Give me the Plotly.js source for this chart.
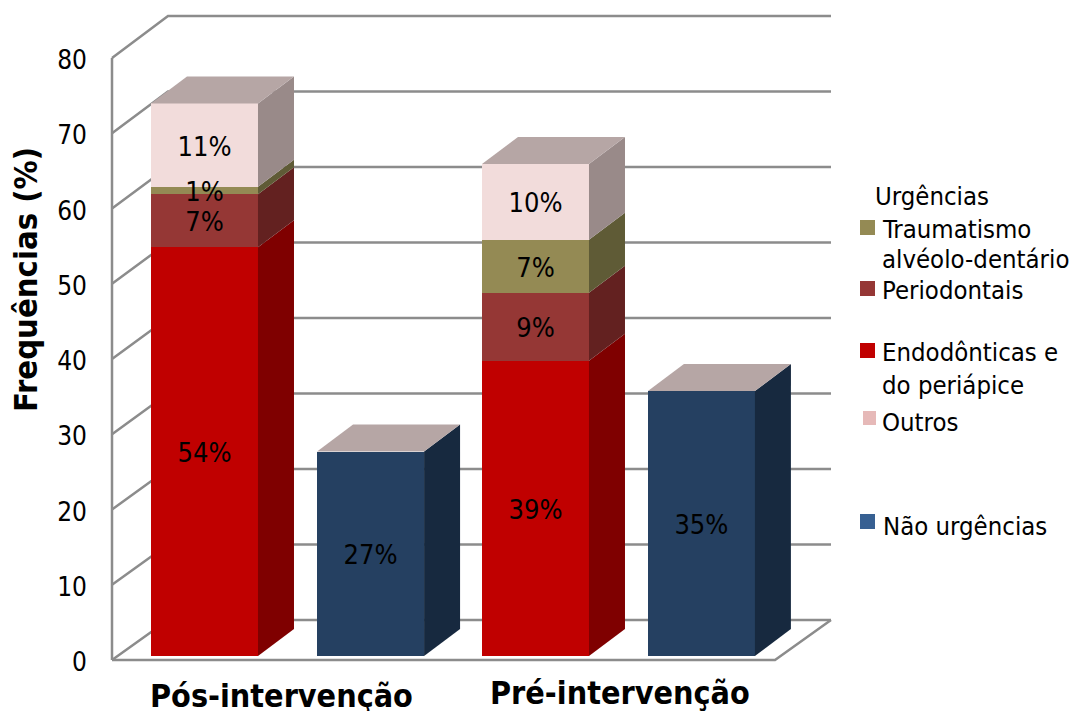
<!DOCTYPE html>
<html><head><meta charset="utf-8">
<script src="https://cdn.plot.ly/plotly-3.0.1.min.js"></script>
<style>html,body{margin:0;padding:0;background:#fff}#c{width:1072px;height:711px}</style>
</head><body><div id="c"></div>
<script>
// ---- data ----
const groups = ['Pós-intervenção', 'Pré-intervenção'];
const endodonticas = [54, 39];
const periodontais = [7, 9];
const traumatismo = [1, 7];
const outros = [11, 10];
const naoUrgencias = [27, 35];
const yTicks = [0, 10, 20, 30, 40, 50, 60, 70, 80];

// ---- style ----
const FONT = 'DejaVu Sans Condensed';
const colors = {
  endo: ['#C00000', '#7F0000'], perio: ['#953735', '#632120'],
  trauma: ['#948A54', '#5F5B36'], outros: ['#F2DCDB', '#998A89'],
  nao: ['#254061', '#17293F'], top: '#B6A6A5', grid: '#8C8C8C'
};
const swatch = {trauma: '#948A54', perio: '#953735', endo: '#C00000', outros: '#E6B9B8', nao: '#376092'};

// ---- geometry of the pseudo-3D projection ----
const W = 1072, H = 711;
const L = 100, R = 845, T = 6, B = 672;          // plot frame (slightly larger than the walls)
const x0Px = 112, y0Px = 660, wallRightPx = 831; // origin of the front wall
const catPx = 331.5, pxY1 = 7.525, pxY2 = 7.57, baseLift = 4;
const xRange = [(L - x0Px) / catPx, (R - x0Px) / catPx];
const xWallEnd = (wallRightPx - x0Px) / catPx;
const y1Range = [(y0Px - B) / pxY1, (y0Px - T) / pxY1];
const y2Range = [(y0Px - baseLift - B) / pxY2, (y0Px - baseLift - T) / pxY2];
const wallDx = 56 / catPx, wallDy = 40 / pxY1, wallStretch = 1.0033;
const barDx = 36 / catPx, barDy = 27 / pxY2, barW = 107 / catPx;
const labelNudge = 0.5;
const urgOffset = 0.279, naoOffset = 0.78;
const urgX = groups.map((_, i) => i + urgOffset - (i ? 0.0015 : 0));
const naoX = groups.map((_, i) => i + naoOffset - (i ? 0.002 : 0));

const traces = [];

// walls
const gx = [], gy = [];
yTicks.forEach(v => {
  const by = v * wallStretch + wallDy;
  gx.push(0, wallDx, xWallEnd, null);
  gy.push(v, by, by, null);
});
const maxT = yTicks[yTicks.length - 1];
gx.push(0, 0, null, 0, 2, 2 + wallDx);
gy.push(0, maxT, null, 0, 0, wallDy);
traces.push({type: 'scatter', mode: 'lines', x: gx, y: gy, xaxis: 'x', yaxis: 'y', hoverinfo: 'skip',
  line: {color: colors.grid, width: 2.5}, showlegend: false});

// bars (front faces)
function bar(x, y, c, name) {
  traces.push({type: 'bar', x: x, y: y, width: barW, name: name, xaxis: 'x', yaxis: 'y2',
    marker: {color: c, line: {width: 0}}, showlegend: false});
}
bar(urgX, endodonticas, colors.endo[0], 'Endodônticas e do periápice');
bar(urgX, periodontais, colors.perio[0], 'Periodontais');
bar(urgX, traumatismo, colors.trauma[0], 'Traumatismo alvéolo-dentário');
bar(urgX, outros, colors.outros[0], 'Outros');
bar(naoX, naoUrgencias, colors.nao[0], 'Não urgências');

// side and top faces, labels
const lx = [], ly = [], lt = [];
function faces(xc, series) {
  let acc = 0;
  const xr = xc + barW / 2, xl = xc - barW / 2;
  series.forEach(s => {
    const y0 = acc, y1 = acc + s.v;
    traces.push({type: 'scatter', mode: 'lines', fill: 'toself', fillcolor: s.c, line: {width: 0, color: s.c},
      x: [xr, xr + barDx, xr + barDx, xr, xr], y: [y0, y0 + barDy, y1 + barDy, y1, y0],
      xaxis: 'x', yaxis: 'y2', hoverinfo: 'skip', showlegend: false});
    lx.push(xc); ly.push((y0 + y1) / 2 - labelNudge); lt.push(s.v + '%');
    acc = y1;
  });
  traces.push({type: 'scatter', mode: 'lines', fill: 'toself', fillcolor: colors.top, line: {width: 0, color: colors.top},
    x: [xl, xr, xr + barDx, xl + barDx, xl], y: [acc, acc, acc + barDy, acc + barDy, acc],
    xaxis: 'x', yaxis: 'y2', hoverinfo: 'skip', showlegend: false});
}
groups.forEach((_, i) => {
  faces(urgX[i], [
    {v: endodonticas[i], c: colors.endo[1]}, {v: periodontais[i], c: colors.perio[1]},
    {v: traumatismo[i], c: colors.trauma[1]}, {v: outros[i], c: colors.outros[1]}]);
  faces(naoX[i], [{v: naoUrgencias[i], c: colors.nao[1]}]);
});
traces.push({type: 'scatter', mode: 'text', x: lx, y: ly, text: lt, textposition: 'middle center',
  textfont: {family: FONT, size: 27, color: '#000'}, xaxis: 'x', yaxis: 'y2', hoverinfo: 'skip', showlegend: false, cliponaxis: false});

// helpers for page-anchored text
const px = v => (v - L) / (R - L);
const py = v => (B - v) / (B - T);
function txt(t, x, y, o) {
  return Object.assign({text: t, xref: 'paper', yref: 'paper', x: px(x), y: py(y), showarrow: false,
    xanchor: 'left', yanchor: 'middle', borderpad: 0, font: {family: FONT, size: 25.5, color: '#000'}}, o || {});
}
const legendLines = [
  ['Urgências', 874, 196], ['Traumatismo', 881, 229], ['alvéolo-dentário', 881, 259],
  ['Periodontais', 881, 290], ['Endodônticas e', 881, 352], ['do periápice', 881, 385],
  ['Outros', 881, 422], ['Não urgências', 882, 526]
];
const annotations = legendLines.map(l => txt(l[0], l[1], l[2]));
annotations.push(txt('<b>Frequências (%)</b>', 26, 280, {textangle: -90, xanchor: 'center', font: {family: FONT, size: 32.5, color: '#000'}}));
annotations.push(txt('<b>' + groups[0] + '</b>', 281, 696, {xanchor: 'center', font: {family: FONT, size: 32, color: '#000'}}));
annotations.push(txt('<b>' + groups[1] + '</b>', 620, 693, {xanchor: 'center', font: {family: FONT, size: 32, color: '#000'}}));

function sw(c, x0, y0, x1, y1) {
  return {type: 'rect', xref: 'paper', yref: 'paper', x0: px(x0), x1: px(x1), y0: py(y0), y1: py(y1),
    fillcolor: c, line: {width: 0}};
}
const shapes = [
  sw(swatch.trauma, 860, 220, 875, 235), sw(swatch.perio, 860, 281, 875, 296), sw(swatch.endo, 860, 343, 875, 358),
  sw(swatch.outros, 863, 411, 876, 425), sw(swatch.nao, 860, 514, 875, 529)
];

Plotly.newPlot('c', traces, {
  width: W, height: H, margin: {l: L, r: W - R, t: T, b: H - B, pad: 0},
  paper_bgcolor: '#fff', plot_bgcolor: 'rgba(0,0,0,0)', barmode: 'stack', showlegend: false,
  font: {family: FONT, color: '#000'},
  xaxis: {range: xRange, showgrid: false, zeroline: false, showline: false, showticklabels: false, ticks: '', fixedrange: true},
  yaxis: {range: y1Range, tickvals: yTicks, ticktext: yTicks.map(String), showgrid: false, zeroline: false, showline: false,
    ticks: '', ticklabelstandoff: 12, ticklabelshift: 2, tickfont: {family: FONT, size: 26, color: '#000'}, fixedrange: true},
  yaxis2: {range: y2Range, overlaying: 'y', side: 'right', showgrid: false, zeroline: false, showline: false,
    showticklabels: false, ticks: '', fixedrange: true},
  annotations: annotations, shapes: shapes
}, {displayModeBar: false, staticPlot: true});
</script></body></html>
